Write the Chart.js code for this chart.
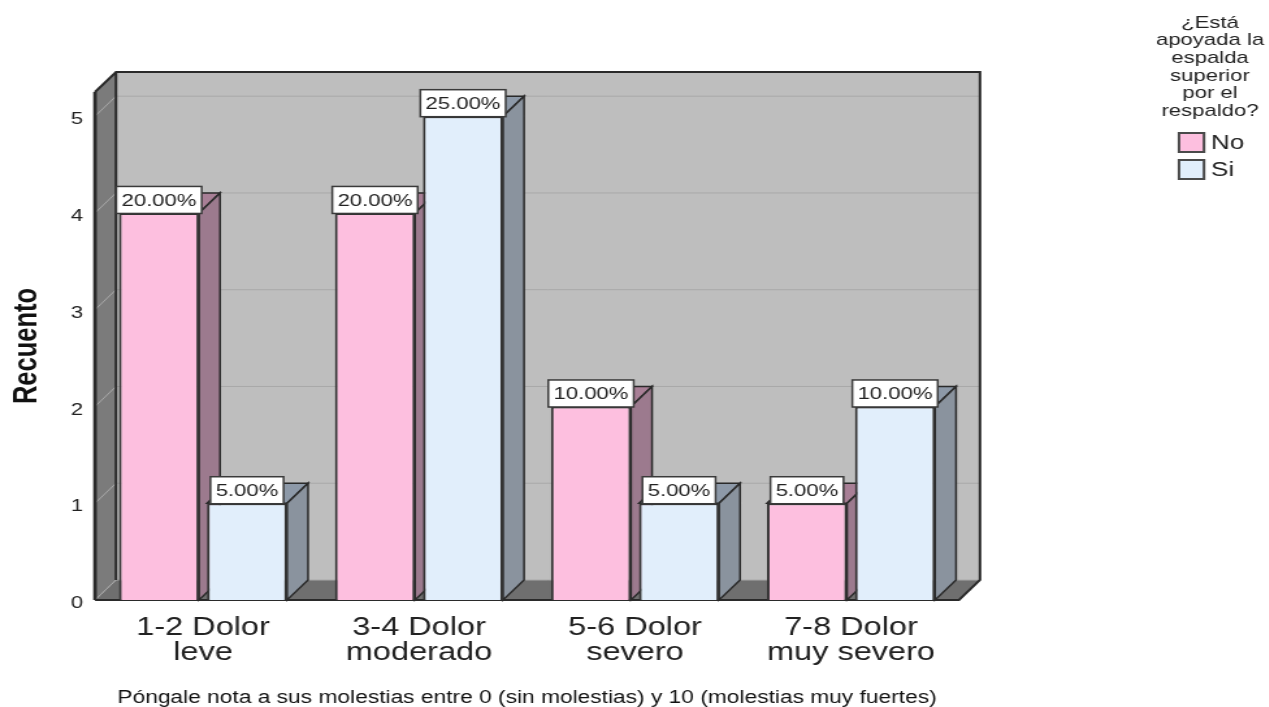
<!DOCTYPE html>
<html lang="es">
<head>
<meta charset="utf-8">
<title>Recuento por nota de molestias</title>
<script src="https://cdn.jsdelivr.net/npm/chart.js@4"></script>
<style>
  html, body { margin: 0; background: #fff; overflow: hidden; }
  /* la imagen original está estirada en horizontal */
  #grafico { transform: scaleX(1.3); transform-origin: 0 0; }
</style>
</head>
<body>
<canvas id="grafico" width="976" height="707"></canvas>
<script>
const categorias = [['1-2 Dolor', 'leve'], ['3-4 Dolor', 'moderado'], ['5-6 Dolor', 'severo'], ['7-8 Dolor', 'muy severo']];
const valoresNo = [4, 4, 2, 1];
const valoresSi = [1, 5, 1, 2];
const porcentajesNo = ['20.00%', '20.00%', '10.00%', '5.00%'];
const porcentajesSi = ['5.00%', '25.00%', '5.00%', '10.00%'];
const tituloLeyenda = ['¿Está', 'apoyada la', 'espalda', 'superior', 'por el', 'respaldo?'];
const tituloX = 'Póngale nota a sus molestias entre 0 (sin molestias) y 10 (molestias muy fuertes)';

const FUENTE = 'Liberation Sans, Arial, sans-serif';
const K = 1.3;              // estiramiento horizontal
const PROF_X = 21 / K;      // profundidad del efecto 3D
const PROF_Y = 20;
const BORDE = '#2a2a2a';

function poligono(ctx, puntos, relleno, borde, grosor) {
  ctx.beginPath();
  puntos.forEach((p, i) => (i ? ctx.lineTo(p[0], p[1]) : ctx.moveTo(p[0], p[1])));
  ctx.closePath();
  if (relleno) { ctx.fillStyle = relleno; ctx.fill(); }
  if (borde) { ctx.strokeStyle = borde; ctx.lineWidth = grosor; ctx.stroke(); }
}

// Paredes, suelo y caras laterales de las barras
const caja3d = {
  id: 'caja3d',
  beforeDatasetsDraw(chart) {
    const { ctx, chartArea: a, scales: { y } } = chart;
    const base = y.getPixelForValue(0);
    ctx.save();
    poligono(ctx, [[a.left + PROF_X, a.top - PROF_Y], [a.right + PROF_X, a.top - PROF_Y], [a.right + PROF_X, base - PROF_Y], [a.left + PROF_X, base - PROF_Y]], '#bebebe');
    poligono(ctx, [[a.left, base], [a.right, base], [a.right + PROF_X, base - PROF_Y], [a.left + PROF_X, base - PROF_Y]], '#6f6f6f');
    poligono(ctx, [[a.left, a.top], [a.left + PROF_X, a.top - PROF_Y], [a.left + PROF_X, base - PROF_Y], [a.left, base]], '#7b7b7b');

    // líneas de cuadrícula en pared izquierda y fondo
    y.ticks.forEach(t => {
      const py = y.getPixelForValue(t.value);
      ctx.lineWidth = 1;
      ctx.strokeStyle = '#a9a9a9';
      ctx.beginPath();
      ctx.moveTo(a.left, py);
      ctx.lineTo(a.left + PROF_X, py - PROF_Y);
      ctx.lineTo(a.right + PROF_X, py - PROF_Y);
      ctx.stroke();
    });

    // contorno de la caja
    ctx.lineWidth = 2;
    ctx.strokeStyle = BORDE;
    ctx.beginPath();
    ctx.moveTo(a.left, a.top);
    ctx.lineTo(a.left + PROF_X, a.top - PROF_Y);
    ctx.lineTo(a.right + PROF_X, a.top - PROF_Y);
    ctx.lineTo(a.right + PROF_X, base - PROF_Y);
    ctx.lineTo(a.right, base);
    ctx.lineTo(a.left, base);
    ctx.moveTo(a.left + PROF_X, a.top - PROF_Y);
    ctx.lineTo(a.left + PROF_X, base - PROF_Y);
    ctx.stroke();
    ctx.lineWidth = 2.8;
    ctx.beginPath();
    ctx.moveTo(a.left, base);
    ctx.lineTo(a.left, a.top);
    ctx.stroke();

    chart.data.datasets.forEach((ds, d) => {
      chart.getDatasetMeta(d).data.forEach(bar => {
        const der = bar.x + bar.width / 2;
        const izq = bar.x - bar.width / 2;
        poligono(ctx, [[izq, bar.y], [der, bar.y], [der + PROF_X, bar.y - PROF_Y], [izq + PROF_X, bar.y - PROF_Y]], ds.colorSuperior, BORDE, 1.5);
        poligono(ctx, [[der, bar.y], [der + PROF_X, bar.y - PROF_Y], [der + PROF_X, base - PROF_Y], [der, base]], ds.colorLateral, BORDE, 1.5);
      });
    });
    ctx.restore();
  },
  afterDatasetsDraw(chart) {
    const { ctx } = chart;
    ctx.save();
    ctx.font = '17px ' + FUENTE;
    ctx.textAlign = 'center';
    ctx.textBaseline = 'middle';
    chart.data.datasets.forEach((ds, d) => {
      chart.getDatasetMeta(d).data.forEach((bar, i) => {
        const texto = ds.etiquetas[i];
        const ancho = ctx.measureText(texto).width + 8;
        ctx.fillStyle = '#fff';
        ctx.fillRect(bar.x - ancho / 2, bar.y - 26.5, ancho, 27);
        ctx.strokeStyle = '#3a3a3a';
        ctx.lineWidth = 1.5;
        ctx.strokeRect(bar.x - ancho / 2, bar.y - 26.5, ancho, 27);
        ctx.fillStyle = '#222';
        ctx.fillText(texto, bar.x, bar.y - 12);
      });
    });

    // título de la leyenda
    ctx.fillStyle = '#222';
    tituloLeyenda.forEach((linea, i) => ctx.fillText(linea, 1210 / K, 23 + i * 17.7));

    // leyenda: muestra y texto
    ctx.textAlign = 'left';
    ctx.font = '20px ' + FUENTE;
    chart.data.datasets.forEach((ds, i) => {
      const top = 133 + i * 27;
      ctx.fillStyle = ds.backgroundColor;
      ctx.fillRect(1179 / K, top, 25 / K, 19);
      ctx.strokeStyle = '#4a4a4a';
      ctx.lineWidth = 2;
      ctx.strokeRect(1179 / K, top, 25 / K, 19);
      ctx.fillStyle = '#222';
      ctx.fillText(ds.label, 1211 / K, top + 10);
    });
    ctx.restore();
  }
};

new Chart(document.getElementById('grafico'), {
  type: 'bar',
  data: {
    labels: categorias,
    datasets: [
      { label: 'No', data: valoresNo, etiquetas: porcentajesNo, backgroundColor: '#fdbfdf', borderColor: '#333', borderWidth: 2, colorLateral: '#9c7a8e', colorSuperior: '#a87f96' },
      { label: 'Si', data: valoresSi, etiquetas: porcentajesSi, backgroundColor: '#e1eefb', borderColor: '#333', borderWidth: 2, colorLateral: '#8a939e', colorSuperior: '#8d99a8' }
    ]
  },
  options: {
    responsive: false,
    animation: false,
    categoryPercentage: 0.815,
    barPercentage: 0.91,
    layout: { padding: { top: 92, right: 976 - 959 / K, left: 0, bottom: 0 } },
    plugins: {
      tooltip: { enabled: false },
      legend: { display: false }
    },
    scales: {
      x: {
        grid: { display: false },
        border: { display: false },
        ticks: { color: '#222', padding: 8, font: { family: FUENTE, size: 25, lineHeight: 1 }, maxRotation: 0 },
        title: { display: true, text: tituloX, color: '#111', padding: 0, font: { family: FUENTE, size: 17.5, lineHeight: 1 } },
        afterFit(scale) { scale.height = 107; }
      },
      y: {
        min: 0,
        max: 5.25,
        grid: { display: false },
        border: { display: false },
        ticks: { stepSize: 1, includeBounds: false, color: '#222', padding: 1, labelOffset: 3.5, font: { family: FUENTE, size: 17 } },
        title: { display: true, text: 'Recuento', color: '#111', padding: { top: 5.5, bottom: 0 }, font: { family: FUENTE, size: 25.5, weight: 'bold' } },
        afterFit(scale) { scale.width = 95 / K; }
      }
    }
  },
  plugins: [caja3d]
});
</script>
</body>
</html>
